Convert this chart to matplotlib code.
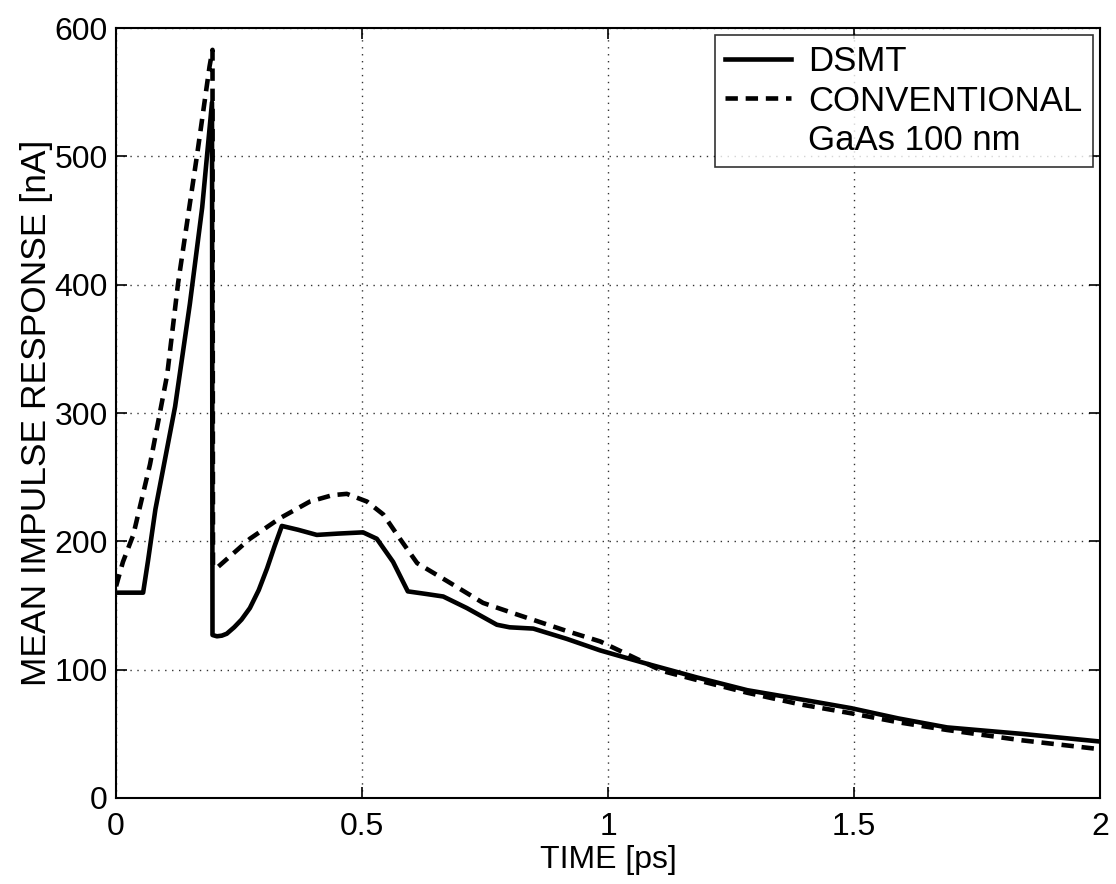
import matplotlib
matplotlib.use("Agg")
import matplotlib.pyplot as plt

plt.rcParams['font.family'] = ['Liberation Sans', 'DejaVu Sans']

# DSMT (solid)
dsmt_t = [0.0, 0.055, 0.065, 0.08, 0.10, 0.12, 0.15, 0.175, 0.195, 0.196, 0.205, 0.215, 0.225, 0.24,
          0.255, 0.272, 0.29, 0.307, 0.322, 0.337, 0.37, 0.408, 0.45, 0.502, 0.53, 0.563, 0.593,
          0.63, 0.665, 0.713, 0.774, 0.80, 0.848, 0.916, 0.984, 1.079, 1.18, 1.283, 1.39, 1.494,
          1.59, 1.689, 1.84, 2.0]
dsmt_v = [160, 160, 185, 225, 265, 305, 385, 460, 542, 127, 126, 126.5, 128, 133,
          139, 148, 162, 179, 196, 212, 209, 205, 206, 207, 202, 184, 161,
          159, 157, 148, 135, 133, 132, 124, 115, 104.6, 94, 84, 77, 70,
          62, 55, 50, 44]

# CONVENTIONAL (dashed)
conv_t = [0.0, 0.014, 0.035, 0.069, 0.089, 0.104, 0.126, 0.165, 0.19, 0.196, 0.197, 0.207, 0.272,
          0.333, 0.394, 0.44, 0.469, 0.51, 0.543, 0.577, 0.612, 0.673, 0.746, 0.815, 0.917, 0.984,
          1.11, 1.2, 1.283, 1.39, 1.494, 1.59, 1.689, 1.84, 2.0]
conv_v = [165, 184, 205, 260, 300, 330, 401, 502, 570, 583, 180, 180, 202,
          218, 231, 236, 237, 231, 221, 202, 183, 169, 152, 143, 130, 122,
          99, 90, 82, 73, 66, 59, 53, 45, 38]

x_ticks = [0, 0.5, 1, 1.5, 2]
x_ticklabels = ['0', '0.5', '1', '1.5', '2']
y_ticks = [0, 100, 200, 300, 400, 500, 600]

fig = plt.figure(figsize=(11.16, 8.84), dpi=100)
ax = fig.add_axes([0.104, 0.0973, 0.8817, 0.871])

ax.plot(dsmt_t, dsmt_v, color='black', lw=3.3, solid_joinstyle='round', label='DSMT')
ax.plot(conv_t, conv_v, color='black', lw=3.3, linestyle=(0, (2.7, 1.7)), label='CONVENTIONAL')
ax.plot([], [], color='none', label='GaAs 100 nm')

ax.set_xlim(0, 2)
ax.set_ylim(0, 600)
ax.set_xticks(x_ticks)
ax.set_xticklabels(x_ticklabels)
ax.set_yticks(y_ticks)
ax.tick_params(direction='in', length=8, width=1.2, labelsize=23, top=True, right=True,
               labeltop=False, labelright=False)
ax.tick_params(axis='x', pad=10)
ax.tick_params(axis='y', pad=6)
ax.grid(True, linestyle=(0, (1, 4)), color='black', lw=1.0, alpha=0.8)
for s in ax.spines.values():
    s.set_linewidth(1.5)

ax.set_xlabel('TIME [ps]', fontsize=23, labelpad=2)
ax.set_ylabel('MEAN IMPULSE RESPONSE [nA]', fontsize=25.5, labelpad=1)

leg = ax.legend(loc='upper right', fontsize=25, frameon=True, fancybox=False, edgecolor='black',
                handlelength=1.9, borderaxespad=0.2, labelspacing=0.18, handletextpad=0.5,
                borderpad=0.3)
leg.get_frame().set_linewidth(1.2)

fig.savefig('out.png', dpi=100)
